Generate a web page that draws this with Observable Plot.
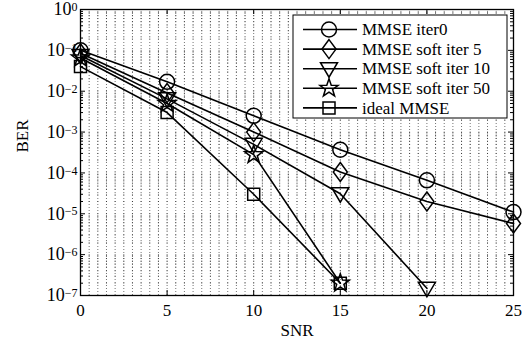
<!DOCTYPE html>
<html><head><meta charset="utf-8">
<script src="https://cdn.jsdelivr.net/npm/d3@7"></script>
<script src="https://cdn.jsdelivr.net/npm/@observablehq/plot@0.6"></script>
<style>
body{margin:0;background:#fff}
svg{font-family:"Liberation Serif","DejaVu Serif",serif}
</style>
</head><body><div id="chart"></div>
<script>
// ---- data ----
const snr = [0, 5, 10, 15, 20, 25];
const seriesNames = ["MMSE iter0", "MMSE soft iter 5", "MMSE soft iter 10", "MMSE soft iter 50", "ideal MMSE"];
const berIter0  = [0.1,   0.017,  0.0025, 3.7e-4, 6.6e-5, 1.1e-5];
const berSoft5  = [0.085, 0.009,  0.001,  1.05e-4, 2.0e-5, 5.8e-6];
const berSoft10 = [0.075, 0.0065, 5.0e-4, 3.1e-5, 1.5e-7];
const berSoft50 = [0.065, 0.005,  2.8e-4, 2.0e-7];
const berIdeal  = [0.04,  0.003,  3.0e-5, 2.0e-7];
const xTickValues = [0, 5, 10, 15, 20, 25];
const yTickExponents = [0, -1, -2, -3, -4, -5, -6, -7];

// ---- symbols (MATLAB-like hollow markers) ----
const symCircle = {draw(c){c.moveTo(7.5,0); c.arc(0,0,7.5,0,2*Math.PI);}};
const symDiamond = {draw(c){c.moveTo(0,-9.5); c.lineTo(7,0); c.lineTo(0,9.5); c.lineTo(-7,0); c.closePath();}};
const symTriDown = {draw(c){c.moveTo(-8.5,-6); c.lineTo(8.5,-6); c.lineTo(0,8.5); c.closePath();}};
const symStar = {draw(c){
  const R = 9.5, r = 3.8;
  for (let i = 0; i < 10; i++) {
    const a = -Math.PI/2 + i*Math.PI/5, rr = i%2 ? r : R;
    const px = rr*Math.cos(a), py = rr*Math.sin(a);
    i ? c.lineTo(px,py) : c.moveTo(px,py);
  }
  c.closePath();
}};
const symSquare = {draw(c){c.rect(-6,-6,12,12);}};
const symbols = [symCircle, symDiamond, symTriDown, symStar, symSquare];
const seriesValues = [berIter0, berSoft5, berSoft10, berSoft50, berIdeal];

const data = [];
seriesValues.forEach((vals, i) => vals.forEach((v, j) => data.push({name: seriesNames[i], idx: i, snr: snr[j], ber: v})));

// ---- layout ----
const W = 522, H = 349, mL = 80, mR = 9, mT = 9, mB = 54;
const pxPerX = (W - mL - mR) / 25;
const pxPerDecade = (H - mT - mB) / 7;
const xGrid = d3.range(0, 25.01, 0.5);
const yDecades = yTickExponents.map(e => Math.pow(10, e));
const yMinor = [];
for (let e = -7; e < 0; e++) for (let m = 2; m <= 9; m++) yMinor.push(m * Math.pow(10, e));
const yGrid = yDecades.concat(yMinor);
const tickX = 5 / pxPerX;
const tickYf = Math.pow(10, 5 / pxPerDecade);
const font = "Liberation Serif";
const gridStyle = {stroke: "#000", strokeOpacity: 0.55, strokeWidth: 1};

const plot = Plot.plot({
  width: W, height: H,
  marginLeft: mL, marginRight: mR, marginTop: mT, marginBottom: mB,
  style: {fontFamily: font, background: "#fff"},
  x: {domain: [0, 25]},
  y: {type: "log", domain: [1e-7, 1]},
  marks: [
    Plot.ruleX(xGrid, {x: d => d, ...gridStyle, strokeDasharray: "1,2"}),
    Plot.ruleY(yGrid, {y: d => d, ...gridStyle, strokeDasharray: `1,${pxPerX/2 - 1}`}),
    // inward ticks
    Plot.ruleY(yDecades, {y: d => d, x1: 0, x2: tickX, stroke: "#000"}),
    Plot.ruleY(yDecades, {y: d => d, x1: 25 - tickX, x2: 25, stroke: "#000"}),
    Plot.ruleY(yMinor, {y: d => d, x1: 0, x2: tickX * 0.6, stroke: "#000"}),
    Plot.ruleY(yMinor, {y: d => d, x1: 25 - tickX * 0.6, x2: 25, stroke: "#000"}),
    Plot.ruleX(xTickValues, {x: d => d, y1: 1e-7, y2: 1e-7 * tickYf, stroke: "#000"}),
    Plot.ruleX(xTickValues, {x: d => d, y1: 1 / tickYf, y2: 1, stroke: "#000"}),
    Plot.frame({stroke: "#000", strokeWidth: 1.3}),
    Plot.axisX({ticks: xTickValues, tickSize: 0, tickPadding: 8, fontSize: 17, label: null, tickFormat: d => String(d)}),
    Plot.axisY({ticks: yDecades, tickSize: 0, tickPadding: 3, fontSize: 18, label: null,
      tickFormat: d => "10^" + Math.round(Math.log10(d))}),
    Plot.text(["SNR"], {frameAnchor: "bottom", dy: 40, fontSize: 17, fontFamily: font}),
    Plot.text(["BER"], {frameAnchor: "left", dx: -58, rotate: -90, fontSize: 17, fontFamily: font}),
    Plot.line(data, {x: "snr", y: "ber", z: "name", stroke: "#000", strokeWidth: 1.6}),
    ...symbols.map((s, i) => Plot.dot(data.filter(d => d.idx === i), {x: "snr", y: "ber", symbol: s, r: 1, stroke: "#000", strokeWidth: 1.5, fill: "none"}))
  ]
});

// superscript exponents for y tick labels
d3.select(plot).selectAll('g[aria-label="y-axis tick label"] text').each(function() {
  const t = this.textContent;
  const m = t.match(/^10\^(-?\d+)$/);
  if (!m) return;
  const exp = m[1].replace("-", "\u2212");
  const sel = d3.select(this);
  sel.text("");
  sel.append("tspan").text("10");
  sel.append("tspan").attr("dy", "-0.34em").attr("font-size", "12px").text(exp);
});

// legend (inside plot area, top-right)
const svg = d3.select(plot);
const lg = svg.append("g").attr("font-family", font).attr("font-size", 17).attr("text-anchor", "start");
const lx = 293, ly = 15, lw = 214, lh = 103;
lg.append("rect").attr("x", lx).attr("y", ly).attr("width", lw).attr("height", lh)
  .attr("fill", "#fff").attr("stroke", "#000").attr("stroke-width", 1);
seriesNames.forEach((name, i) => {
  const yy = 29.5 + i * 19.6;
  lg.append("line").attr("x1", lx + 10).attr("x2", lx + 64).attr("y1", yy).attr("y2", yy)
    .attr("stroke", "#000").attr("stroke-width", 1.6);
  lg.append("path").attr("d", d3.symbol(symbols[i], 1)()).attr("transform", `translate(${lx + 36},${yy})`)
    .attr("fill", "none").attr("stroke", "#000").attr("stroke-width", 1.5);
  lg.append("text").attr("x", lx + 69).attr("y", yy).attr("dy", "0.34em").attr("fill", "#000")
    .attr("text-anchor", "start").text(name);
});

document.getElementById("chart").appendChild(plot);
</script>
</body></html>
